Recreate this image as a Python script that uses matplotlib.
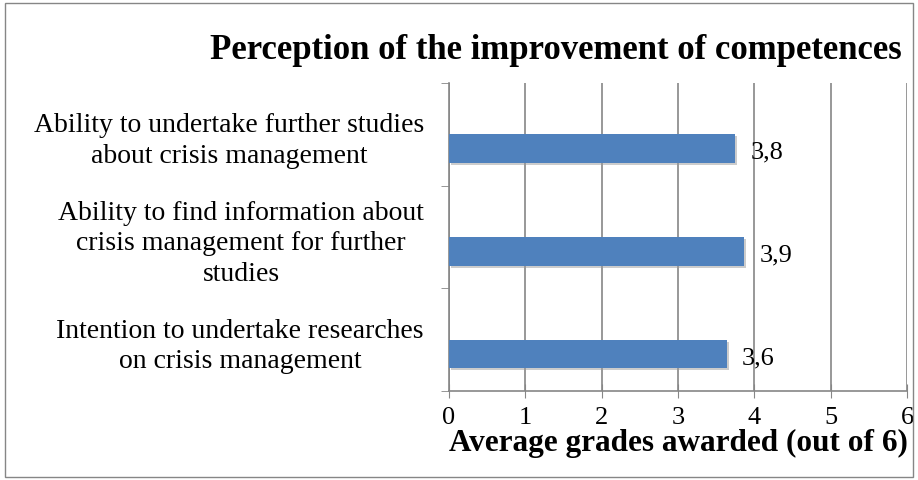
import matplotlib.pyplot as plt
import matplotlib.patheffects as pe
from matplotlib.patches import Rectangle

# данные
categories = ['Intention to undertake researches\non crisis management',
              'Ability to find information about\ncrisis management for further\nstudies',
              'Ability to undertake further studies\nabout crisis management']
values = [3.64, 3.87, 3.75]
labels = ['3,6', '3,9', '3,8']
xticks = [0, 1, 2, 3, 4, 5, 6]

plt.rcParams['font.family'] = ['Liberation Serif', 'DejaVu Serif']
grey = '#868686'

fig = plt.figure(figsize=(9.18, 4.81), dpi=100)
ax = fig.add_axes([449 / 918, 1 - 392 / 481, 458 / 918, 308 / 481])

pos = list(range(len(categories)))
shift = -0.14  # бары в оригинале чуть ниже центра категории
bpos = [p + shift for p in pos]
bars = ax.barh(bpos, values, height=0.28, color='#4F81BD', zorder=3)
for b in bars:
    b.set_path_effects([pe.SimplePatchShadow(offset=(1.5, -1.5), shadow_rgbFace='#9a9a9a', alpha=0.5), pe.Normal()])

for p, v, t in zip(bpos, values, labels):
    ax.text(v + 0.2, p - 0.03, t, va='center', ha='left', fontsize=19)

ax.set_xlim(0, 6)
ax.set_ylim(-0.5, 2.5)
ax.set_xticks(xticks)
ax.set_xticklabels([str(x) for x in xticks], fontsize=19)
ax.set_yticks(pos)
ax.set_yticklabels(categories, fontsize=20, multialignment='center', linespacing=1.3)
ax.tick_params(axis='y', length=0, pad=18)
ax.tick_params(axis='x', direction='inout', length=10, color=grey, pad=6)
# отметки между категориями
ax.set_yticks([-0.5, 0.5, 1.5, 2.5], minor=True)
ax.tick_params(axis='y', which='minor', direction='out', length=6, color=grey)

ax.grid(axis='x', color=grey, linewidth=1.2, zorder=0)
for s in ['top', 'right']:
    ax.spines[s].set_visible(False)
ax.spines['left'].set_color(grey)
ax.spines['bottom'].set_color(grey)
ax.spines['left'].set_linewidth(1.2)
ax.spines['bottom'].set_linewidth(1.2)

ax.set_xlabel('Average grades awarded (out of 6)', fontsize=22.5, fontweight='bold', labelpad=0)
fig.text(0.605, 0.895, 'Perception of the improvement of competences', fontsize=25, fontweight='bold',
         ha='center', va='center')

fig.patches.append(Rectangle((5 / 918, 3 / 481), 908 / 918, 474 / 481, transform=fig.transFigure,
                             fill=False, edgecolor=grey, linewidth=1))

plt.savefig('out.png', dpi=100)
